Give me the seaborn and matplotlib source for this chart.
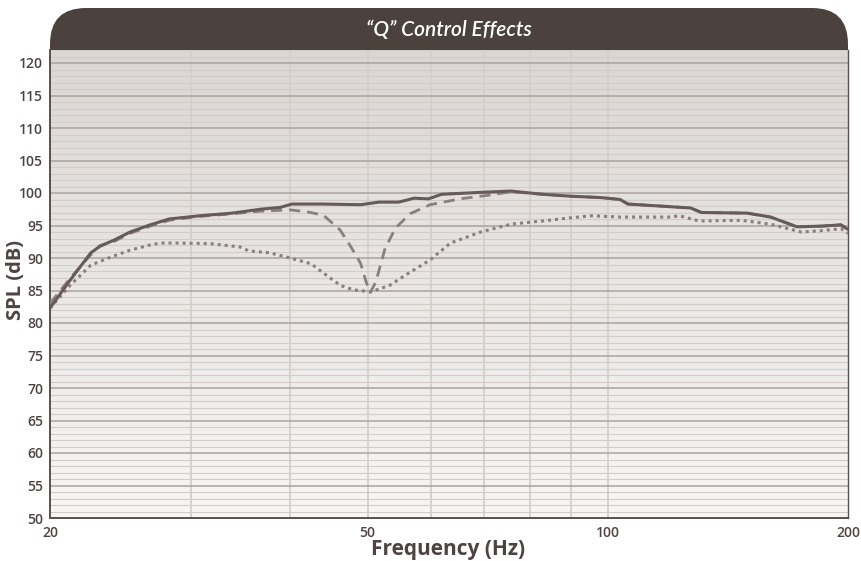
import seaborn as sns
import pandas as pd
import matplotlib.pyplot as plt
import numpy as np
from matplotlib.patches import FancyBboxPatch
from matplotlib.transforms import IdentityTransform
from matplotlib.ticker import FixedLocator, NullFormatter

# Frequency (Hz) / SPL (dB)
flat_freq = [20, 21.2, 22.5, 23.1, 24.1, 25.2, 26.7, 28.2, 30.8, 33.8, 36.7, 38.9, 40.2, 43.9,
             49.0, 51.7, 54.7, 57.2, 59.6, 61.9, 69.3, 75.6, 82.9, 90.1, 97.9, 103.6, 106,
             127, 131, 149.6, 160, 172.6, 185, 196, 200]
flat_spl = [82.3, 86.6, 90.8, 91.8, 92.8, 94.0, 95.1, 96.0, 96.5, 96.9, 97.5, 97.8, 98.3, 98.3,
            98.2, 98.6, 98.6, 99.2, 99.1, 99.8, 100.1, 100.3, 99.8, 99.5, 99.3, 99.0, 98.3,
            97.7, 97.0, 96.9, 96.3, 94.8, 94.9, 95.1, 94.4]

narrow_freq = [20, 21.2, 22.5, 23.1, 24.1, 25.2, 26.7, 28.2, 30.8, 33.8, 36.7, 40.0, 42.0, 44.0,
               46.2, 47.5, 49.0, 49.8, 50.4, 51.2, 52.6, 54.2, 56.5, 59.9, 65.3, 71.3, 75.6,
               82.9, 90.1, 97.9, 103.6, 106, 127, 131, 149.6, 160, 172.6, 185, 196, 200]
narrow_spl = [83.0, 86.9, 90.5, 91.9, 92.6, 93.8, 94.9, 95.8, 96.4, 96.8, 97.2, 97.4, 97.1, 96.6,
              94.3, 92.0, 89.2, 86.3, 84.7, 86.3, 91.5, 94.6, 96.8, 98.2, 99.1, 99.7, 100.2,
              99.8, 99.5, 99.3, 99.0, 98.3, 97.7, 97.0, 96.9, 96.3, 94.8, 94.9, 95.1, 94.4]

wide_freq = [20, 21.2, 22.5, 23.9, 25.2, 26.7, 27.5, 29.0, 31.8, 34.6, 35.5, 37.7, 40.0, 42.5,
             43.9, 46.2, 48.0, 50.5, 53.3, 56.5, 59.9, 63.5, 69.3, 75.6, 82.9, 90.1, 95.5,
             103.6, 119.5, 123, 130, 147, 160, 174.7, 185, 196, 200]
wide_spl = [82.3, 85.8, 88.9, 90.2, 91.2, 92.0, 92.3, 92.3, 92.2, 91.7, 91.1, 90.8, 90.0, 89.1,
            87.8, 85.8, 85.1, 84.8, 85.8, 87.8, 89.7, 92.3, 94.0, 95.2, 95.7, 96.2, 96.5,
            96.3, 96.3, 96.5, 95.7, 95.8, 95.2, 94.0, 94.2, 94.5, 93.8]

x_ticks = [20, 50, 100, 200]
x_grid = [30, 40, 50, 60, 70, 80, 90, 100]
y_ticks = list(range(50, 125, 5))

ink = '#4d4340'
line_col = '#665b5a'
soft_col = '#8a7f7e'

sns.set_theme(style='white')
plt.rcParams['font.family'] = ['Open Sans', 'DejaVu Sans']

fig = plt.figure(figsize=(8.62, 5.61), dpi=100)
W, H = 862, 561
ax = fig.add_axes([50 / W, 1 - 518 / H, 798 / W, 468 / H])

# title banner with rounded top corners (pixel coords, y from bottom)
banner = FancyBboxPatch((50, H - 110), 798, 102,
                        boxstyle='round,pad=0,rounding_size=36',
                        transform=IdentityTransform(), facecolor='#4b413d',
                        edgecolor='none', zorder=-1)
fig.patches.append(banner)
fig.text(449 / W, 1 - 30 / H, '\u201cQ\u201d Control Effects', color='white',
         fontsize=15, fontstyle='italic', fontweight='semibold',
         family=['Lato', 'DejaVu Sans'], ha='center', va='center')

# gradient background
grad = np.linspace(0, 1, 256).reshape(-1, 1)
ax.imshow(grad, extent=[0, 1, 0, 1], transform=ax.transAxes, aspect='auto',
          cmap=sns.blend_palette(['#dbd6d3', '#f8f7f6'], as_cmap=True),
          origin='upper', zorder=0)
ax.set_facecolor('#f0eeec')

df_flat = pd.DataFrame({'freq': flat_freq, 'spl': flat_spl})
df_narrow = pd.DataFrame({'freq': narrow_freq, 'spl': narrow_spl})
df_wide = pd.DataFrame({'freq': wide_freq, 'spl': wide_spl})

sns.lineplot(data=df_wide, x='freq', y='spl', ax=ax, color=soft_col, lw=2.2,
             linestyle=(0, (1, 1.3)), zorder=3)
sns.lineplot(data=df_narrow, x='freq', y='spl', ax=ax, color=soft_col, lw=2.0,
             linestyle=(0, (4, 2.5)), zorder=3)
sns.lineplot(data=df_flat, x='freq', y='spl', ax=ax, color=line_col, lw=2.2, zorder=4)

ax.set_xscale('log')
ax.set_xlim(20, 200)
ax.set_ylim(50, 122)

for f in x_grid:
    ax.axvline(f, color='#d6d0cd', lw=1.3, zorder=1)
for v in range(50, 123):
    if v % 5 == 0:
        ax.axhline(v, color='#aaa3a0', lw=1.1, zorder=1)
    else:
        ax.axhline(v, color='#d3cdca', lw=0.8, zorder=1)

ax.xaxis.set_major_locator(FixedLocator(x_ticks))
ax.xaxis.set_minor_formatter(NullFormatter())
ax.xaxis.set_minor_locator(FixedLocator([]))
ax.set_xticklabels([str(t) for t in x_ticks])
ax.yaxis.set_major_locator(FixedLocator(y_ticks))
ax.tick_params(axis='both', length=0, labelsize=10, labelcolor=ink)
ax.tick_params(axis='x', pad=6)
ax.tick_params(axis='y', pad=5)
for lab in ax.get_xticklabels() + ax.get_yticklabels():
    lab.set_fontweight('semibold')

for side in ['left', 'bottom', 'right']:
    ax.spines[side].set_color('#5b504d')
    ax.spines[side].set_linewidth(1.4)
ax.spines['top'].set_visible(False)
ax.spines['right'].set_linewidth(1.0)

ax.set_xlabel('')
ax.set_ylabel('')
fig.text(448 / W, 1 - 549 / H, 'Frequency (Hz)', fontsize=15, fontweight='bold',
         color=ink, ha='center', va='center')
fig.text(16 / W, 1 - 280 / H, 'SPL (dB)', fontsize=14.5, fontweight='bold',
         color=ink, ha='center', va='center', rotation=90)

fig.savefig('out.png', dpi=100)
